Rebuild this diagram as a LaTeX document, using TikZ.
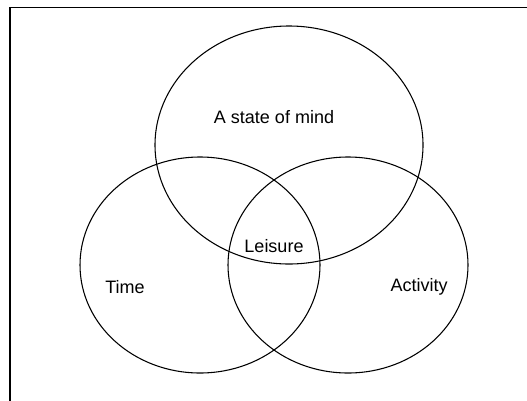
\documentclass[tikz,border=0pt]{standalone}
\usepackage{fontspec}
\setmainfont{Liberation Sans}
\begin{document}
\begin{tikzpicture}[x=0.75pt,y=-0.75pt]
    \useasboundingbox (0,0) rectangle (527,400);
    \clip (0,0) rectangle (527,400);
    \draw[line width=1.1pt] (10,7.5) rectangle (545,420);

    \begin{scope}[every path/.style={draw,line width=0.8pt}]
        \draw (289,145) ellipse [x radius=134, y radius=119];
        \draw (200,265) ellipse [x radius=120, y radius=108];
        \draw (348,265) ellipse [x radius=120, y radius=108];
    \end{scope}

    \begin{scope}[every node/.style={anchor=base,inner sep=0pt,font=\fontsize{13.5}{16}\selectfont}]
        \node (mind) at (274,123) {A state of mind};
        \node (leisure) at (274,252) {Leisure};
        \node (time) at (125,293) {Time};
        \node (activity) at (419,291) {Activity};
    \end{scope}
\end{tikzpicture}
\end{document}
